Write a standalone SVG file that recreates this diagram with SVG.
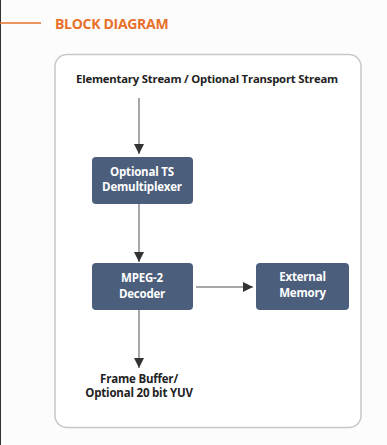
<svg xmlns="http://www.w3.org/2000/svg" width="387" height="445" viewBox="0 0 387 445">
<defs>
<marker id="ah" viewBox="0 0 10 10" refX="10" refY="5" markerWidth="10" markerHeight="10" markerUnits="userSpaceOnUse" orient="auto">
<path d="M0,0 L10,5 L0,10 Z" fill="#333"/>
</marker>
<style>
.node rect{fill:#4b5e7c}
.node text{fill:#fff;font-family:"Open Sans","Liberation Sans",sans-serif;font-weight:bold;font-size:11.5px;text-anchor:middle;letter-spacing:-0.2px}
.lbl{fill:#222;font-family:"Open Sans","Liberation Sans",sans-serif;font-weight:bold;font-size:11.5px;text-anchor:middle;letter-spacing:-0.2px}
.conn line{stroke:#8a8a8a;stroke-width:1.5;marker-end:url(#ah)}
</style>
</defs>
<rect width="387" height="445" fill="#fcfcfc"/>
<line x1="0.5" y1="0" x2="0.5" y2="445" stroke="#333" stroke-width="1"/>
<line x1="0" y1="23" x2="41" y2="23" stroke="#e8702a" stroke-width="1.5"/>
<text x="55" y="28.5" fill="#e8702a" font-family="'Open Sans','Liberation Sans',sans-serif" font-weight="bold" font-size="14" letter-spacing="-0.3">BLOCK DIAGRAM</text>
<rect x="55" y="54.5" width="306" height="373" rx="12" fill="#fff" stroke="#c8c8c8" stroke-width="1.5"/>
<text class="lbl" x="207" y="83" style="font-size:11.3px">Elementary  Stream / Optional Transport Stream</text>
<g class="conn">
<line x1="139" y1="98" x2="139" y2="154"/>
<line x1="139" y1="204" x2="139" y2="262"/>
<line x1="196" y1="287" x2="253" y2="287"/>
<line x1="139" y1="310" x2="139" y2="368"/>
</g>
<g id="demux" class="node"><rect x="92" y="157" width="101" height="47" rx="4"/><text x="142" y="176">Optional TS</text><text x="142" y="191">Demultiplexer</text></g>
<g id="decoder" class="node"><rect x="92" y="263" width="101" height="47" rx="4"/><text x="142" y="282">MPEG-2</text><text x="142" y="298">Decoder</text></g>
<g id="memory" class="node"><rect x="256" y="263" width="93" height="47" rx="4"/><text x="302.5" y="281">External</text><text x="302.5" y="297">Memory</text></g>
<text class="lbl" x="139" y="383">Frame Buffer/</text>
<text class="lbl" x="139" y="397">Optional  20 bit YUV</text>
</svg>
